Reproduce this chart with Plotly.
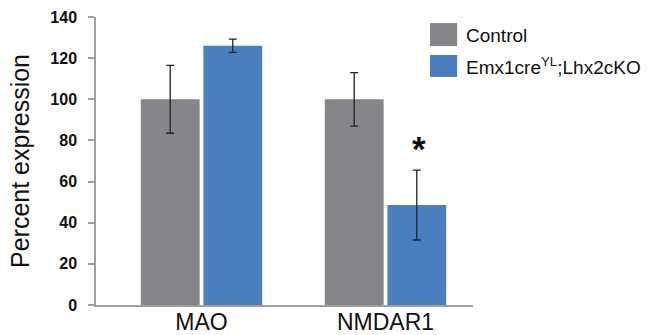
import plotly.graph_objects as go

categories = ["MAO", "NMDAR1"]
series_names = ["Control", "Emx1cre<sup>YL</sup>;Lhx2cKO"]
control_values = [100, 100]
control_errors = [16.5, 13]
ko_values = [126, 48.6]
ko_errors = [3.2, 17]
y_ticks = [0, 20, 40, 60, 80, 100, 120, 140]
colors = ["#86858a", "#4a7ebf"]

FONT = "Liberation Sans, Arial, sans-serif"

fig = go.Figure()
fig.add_trace(go.Bar(
    x=categories, y=control_values, name=series_names[0],
    marker=dict(color=colors[0], line=dict(width=0)),
    error_y=dict(type="data", array=control_errors, visible=True,
                 color="#222222", thickness=1.3, width=4),
    showlegend=False,
))
fig.add_trace(go.Bar(
    x=categories, y=ko_values, name=series_names[1],
    marker=dict(color=colors[1], line=dict(width=0)),
    error_y=dict(type="data", array=ko_errors, visible=True,
                 color="#222222", thickness=1.3, width=4),
    showlegend=False,
))

# manual legend
legend_rows = [(0.979, 0.899, 0.9375), (0.868, 0.792, 0.830)]
for (y1, y0, yt), c, name in zip(legend_rows, colors, series_names):
    fig.add_shape(type="rect", xref="paper", yref="paper",
                  x0=0.886, x1=0.958, y0=y0, y1=y1,
                  fillcolor=c, line=dict(width=0))
    fig.add_annotation(xref="paper", yref="paper", x=0.976, y=yt,
                       text=name, showarrow=False, xanchor="left",
                       yanchor="middle",
                       font=dict(family=FONT, size=19, color="#111111"))

# significance asterisk
fig.add_annotation(x=categories[1], y=ko_values[1] + ko_errors[1],
                   text="<b>*</b>", showarrow=False, xshift=33, yshift=0,
                   yanchor="bottom",
                   font=dict(family=FONT, size=35, color="#111111"))

fig.update_layout(
    width=656, height=335,
    margin=dict(l=96, r=183, t=17, b=30, autoexpand=False),
    paper_bgcolor="white", plot_bgcolor="white",
    barmode="group", bargap=0.32, bargroupgap=0.06,
    font=dict(family=FONT, color="#111111"),
)
fig.update_xaxes(
    range=[-0.5734, 1.4755], showline=True, linecolor="#a0a0a0", linewidth=1.5,
    ticks="", tickfont=dict(family=FONT, size=23, color="#111111"),
    ticklabelstandoff=-4,
    showgrid=False, zeroline=False, automargin=False,
)
fig.update_yaxes(
    range=[0, 140], tickvals=y_ticks, showline=True, linecolor="#a0a0a0",
    linewidth=1.5, ticks="outside", ticklen=6, tickcolor="#a0a0a0", tickwidth=1.5,
    tickfont=dict(family=FONT, size=16, color="#111111", weight="bold"),
    ticklabelstandoff=8,
    showgrid=False, zeroline=False, automargin=False,
    title=dict(text="Percent expression", standoff=14,
               font=dict(family=FONT, size=25, color="#111111")),
)

fig.write_html(
    "out.html",
    config={"displayModeBar": False},
    post_script="document.body.style.margin='0';document.body.style.overflow='hidden';",
)
